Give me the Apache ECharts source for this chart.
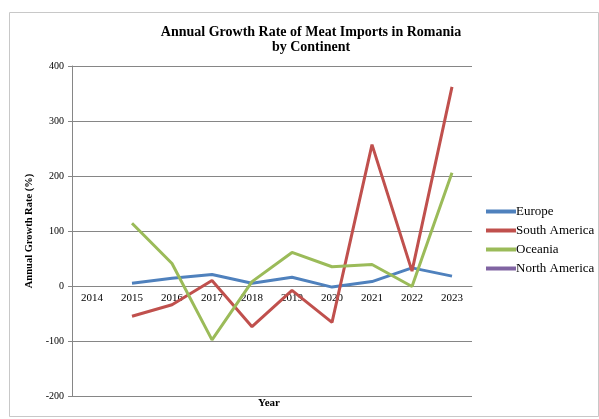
<!DOCTYPE html>
<html><head><meta charset="utf-8">
<script src="https://cdn.jsdelivr.net/npm/echarts@6/dist/echarts.min.js"></script>
<style>html,body{margin:0;padding:0;background:#fff}#c{width:599px;height:419px}</style>
</head><body><div id="c"></div>
<script>
const years = ['2014','2015','2016','2017','2018','2019','2020','2021','2022','2023'];
const europe = [null, 5, 14, 21, 5, 16, -2, 8, 33, 18];
const southAmerica = [null, -55, -34, 10, -74, -8, -66, 257, 27, 362];
const oceania = [null, 114, 41, -98, 8, 61, 35, 39, -1, 206];
const northAmerica = [null, null, null, null, null, null, null, null, null, null];
const seriesNames = ['Europe','South America','Oceania','North America'];
const colors = ['#4F81BD','#C0504D','#9BBB59','#8064A2'];
const yTicks = {min: -200, max: 400, interval: 100};

const serif = 'Liberation Serif';
const chart = echarts.init(document.getElementById('c'));
const data = [europe, southAmerica, oceania, northAmerica];
// plot spans y 66..396; zero line sits at 2/6 of height above the bottom
const plotH = 330;
const zeroOffset = -plotH * (0 - yTicks.min) / (yTicks.max - yTicks.min);
chart.setOption({
  animation: false,
  color: colors,
  title: {
    text: 'Annual Growth Rate of Meat Imports in Romania\nby Continent',
    left: 306, top: 20, textAlign: 'center',
    textStyle: {fontFamily: serif, fontWeight: 'bold', fontSize: 14, lineHeight: 15, color: '#000'}
  },
  legend: {
    orient: 'vertical', left: 481, top: 200, itemGap: 6,
    icon: 'rect', itemWidth: 30, itemHeight: 4,
    textStyle: {fontFamily: serif, fontSize: 13, color: '#000', padding: [0,0,0,-5]},
    data: seriesNames
  },
  grid: {left: 72, right: 127, top: 66, bottom: 23},
  xAxis: {
    type: 'category', data: years, boundaryGap: true,
    offset: zeroOffset,
    axisLine: {onZero: false, lineStyle: {color: '#868686', width: 1}},
    axisTick: {show: false},
    axisLabel: {fontFamily: serif, fontSize: 11, color: '#000', margin: 7}
  },
  yAxis: {
    type: 'value', min: yTicks.min, max: yTicks.max, interval: yTicks.interval,
    name: 'Annual Growth Rate (%)', nameLocation: 'middle', nameGap: 30,
    nameTextStyle: {fontFamily: serif, fontWeight: 'bold', fontSize: 10.5, color: '#000'},
    axisLine: {show: true, lineStyle: {color: '#868686'}},
    axisTick: {show: true, length: 4, lineStyle: {color: '#868686'}},
    axisLabel: {fontFamily: serif, fontSize: 10, color: '#000', margin: 8},
    splitLine: {lineStyle: {color: '#868686', width: 1}}
  },
  graphic: [
    {type: 'rect', shape: {x: 9.5, y: 12.5, width: 589, height: 404}, style: {fill: 'none', stroke: '#c8c8c8', lineWidth: 1}},
    {type: 'text', left: 258, top: 398, style: {text: 'Year', font: 'bold 11px "Liberation Serif"', fill: '#000'}}
  ],
  series: seriesNames.map((n, i) => ({
    name: n, type: 'line', data: data[i], symbol: 'none',
    lineStyle: {width: 3, color: colors[i]}, connectNulls: false
  }))
});
</script></body></html>
